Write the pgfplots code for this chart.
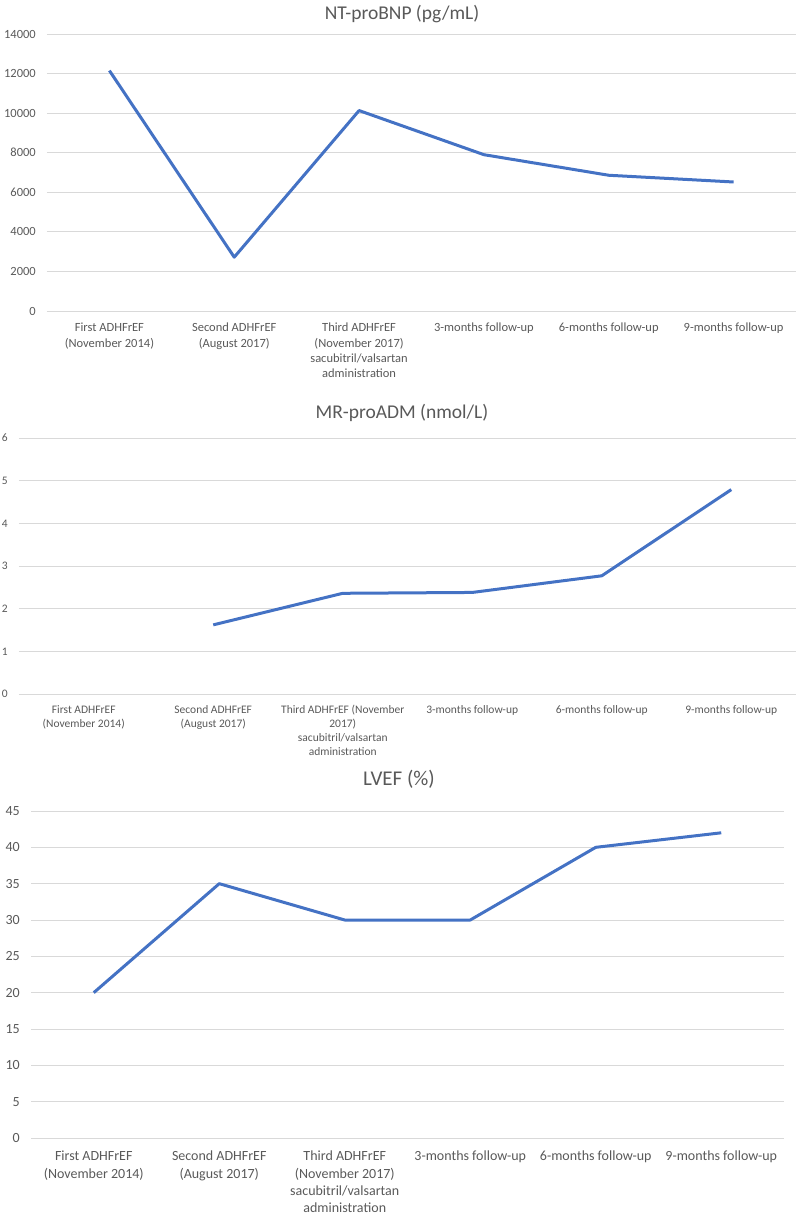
\documentclass[border=0pt]{standalone}
\usepackage{pgfplots}
\pgfplotsset{compat=1.18}
\usepackage{fontspec}
\setmainfont{Carlito}
\definecolor{lineblue}{HTML}{4472C4}
\definecolor{gridgray}{HTML}{D9D9D9}
\definecolor{txtgray}{HTML}{595959}
\pgfplotsset{excel/.style={
  scale only axis, anchor=south west,
  axis line style={draw=none},
  ymajorgrids, grid style={gridgray, line width=0.9pt},
  major tick length=0pt,
  xtick={0,...,5}, xmin=-0.5, xmax=5.5,
  scaled y ticks=false,
  tick label style={text=txtgray},
  /pgf/number format/assume math mode=true,
  /pgf/number format/set thousands separator={},
  /pgf/number format/fixed,
  xticklabel style={align=center, anchor=north, inner sep=0pt},
  yticklabel style={anchor=east, inner sep=0pt, xshift=-11pt},
  clip=false,
}}
\begin{document}
\begin{tikzpicture}
% Chart 1
\begin{axis}[excel, at={(47pt,905pt)}, width=749pt, height=277pt,
  ymin=0, ymax=14000, ytick={0,2000,...,14000},
  tick label style={font=\fontsize{12.5}{15.3}\selectfont},
  xticklabel style={yshift=-12pt},
  xticklabels={{First ADHFrEF\\(November 2014)},{Second ADHFrEF\\(August 2017)},{Third ADHFrEF\\(November 2017)\\sacubitril/valsartan\\administration},{3-months follow-up},{6-months follow-up},{9-months follow-up}}]
\addplot[lineblue, line width=3pt, line join=round] coordinates {(0,12150) (1,2720) (2,10130) (3,7900) (4,6860) (5,6520)};
\end{axis}
% Chart 2
\begin{axis}[excel, at={(19pt,522pt)}, width=777pt, height=256pt,
  ymin=0, ymax=6, ytick={0,1,...,6},
  tick label style={font=\fontsize{11.5}{14}\selectfont},
  xticklabel style={yshift=-11pt},
  xticklabels={{First ADHFrEF\\(November 2014)},{Second ADHFrEF\\(August 2017)},{Third ADHFrEF (November\\2017)\\sacubitril/valsartan\\administration},{3-months follow-up},{6-months follow-up},{9-months follow-up}}]
\addplot[lineblue, line width=3pt, line join=round] coordinates {(1,1.62) (2,2.36) (3,2.38) (4,2.77) (5,4.79)};
\end{axis}
% Chart 3
\begin{axis}[excel, at={(31pt,78pt)}, width=753pt, height=327pt,
  ymin=0, ymax=45, ytick={0,5,...,45},
  tick label style={font=\fontsize{14}{17.3}\selectfont},
  xticklabel style={yshift=-13pt},
  xticklabels={{First ADHFrEF\\(November 2014)},{Second ADHFrEF\\(August 2017)},{Third ADHFrEF\\(November 2017)\\sacubitril/valsartan\\administration},{3-months follow-up},{6-months follow-up},{9-months follow-up}}]
\addplot[lineblue, line width=3pt, line join=round] coordinates {(0,20) (1,35) (2,30) (3,30) (4,40) (5,42)};
\end{axis}
\node[text=txtgray, font=\fontsize{19.5}{22}\selectfont] at (402pt,1202pt) {NT-proBNP (pg/mL)};
\node[text=txtgray, font=\fontsize{19.5}{22}\selectfont] at (402pt,803pt) {MR-proADM (nmol/L)};
\node[text=txtgray, font=\fontsize{21}{24}\selectfont] at (399pt,437pt) {LVEF (\%)};
\pgfresetboundingbox
\path[use as bounding box] (0,0) rectangle (800pt,1216pt);
\end{tikzpicture}
\end{document}
